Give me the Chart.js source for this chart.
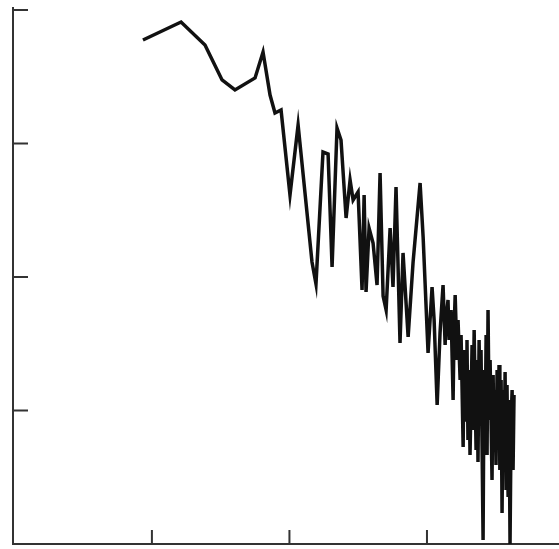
<!DOCTYPE html>
<html>
<head>
<meta charset="utf-8">
<script src="https://cdn.jsdelivr.net/npm/chart.js@4/dist/chart.umd.min.js"></script>
<style>
html,body{margin:0;padding:0;background:#fff;}
#wrap{width:559px;height:549px;}
</style>
</head>
<body>
<div id="wrap"><canvas id="c" width="559" height="549"></canvas></div>
<script>
// x positions (axis units) and y values
const xValues = [0.935,1.212,1.386,1.510,1.604,1.750,1.808,1.859,1.895,1.939,
  2.004,2.063,2.164,2.193,2.244,2.281,2.310,2.346,2.375,2.412,
  2.441,2.463,2.499,2.528,2.543,2.557,2.579,2.608,2.637,2.659,
  2.681,2.703,2.732,2.753,2.775,2.804,2.826,2.863,2.899,2.950,
  2.972,3.008,3.037,3.052,3.074,
  3.095,3.110,3.117,3.132,3.139,3.153,3.161,3.175,3.190,3.197,
  3.205,3.219,3.226,3.241,3.248,3.263,3.270,3.284,3.291,3.298,
  3.306,3.313,3.328,3.335,3.343,3.357,3.364,3.371,3.379,3.386,
  3.393,3.408,3.415,3.423,3.430,3.437,3.444,3.452,3.459,3.473,
  3.481,3.488,3.495,3.502,3.510,3.517,3.524,3.530,3.539,3.546,
  3.553,3.561,3.568,3.575,3.582,3.590,3.597,3.604,3.612,3.619,
  3.626,3.633];
const yValues = [3.775,3.910,3.738,3.476,3.401,3.491,3.685,3.363,3.228,3.251,
  2.614,3.139,2.112,1.948,2.936,2.921,2.075,3.116,3.026,2.442,
  2.727,2.577,2.637,1.903,2.614,1.888,2.367,2.255,1.940,2.779,
  1.858,1.753,2.367,1.925,2.674,1.506,2.180,1.551,2.112,2.704,
  2.300,1.431,1.925,1.678,1.041,
  1.581,1.828,1.940,1.491,1.678,1.828,1.528,1.753,1.079,1.603,
  1.865,1.378,1.678,1.228,1.566,0.727,1.453,0.929,1.528,0.779,
  1.303,0.667,1.491,0.854,1.603,0.704,1.378,0.614,1.528,0.966,
  1.453,0.030,1.303,0.779,1.566,0.667,1.753,0.929,1.378,0.479,
  1.266,0.704,1.154,0.592,1.303,0.779,1.341,0.554,1.228,0.232,
  1.154,0.629,1.288,0.404,1.191,0.352,1.079,0.000,0.929,1.154,
  0.554,1.116];
const xTicks = [1, 2, 3];
const yTicks = [1, 2, 3, 4];

const points = xValues.map((x, i) => ({x: x, y: yValues[i]}));

const inwardTicks = {
  id: 'inwardTicks',
  afterDraw(chart) {
    const ctx = chart.ctx;
    const xs = chart.scales.x, ys = chart.scales.y;
    ctx.save();
    ctx.strokeStyle = '#333';
    ctx.lineWidth = 2;
    ctx.beginPath();
    yTicks.forEach(v => {
      const py = ys.getPixelForValue(v);
      ctx.moveTo(xs.left, py);
      ctx.lineTo(xs.left + 15, py);
    });
    xTicks.forEach(v => {
      const px = xs.getPixelForValue(v);
      ctx.moveTo(px, ys.bottom);
      ctx.lineTo(px, ys.bottom - 14);
    });
    ctx.stroke();
    ctx.restore();
  }
};

new Chart(document.getElementById('c'), {
  type: 'scatter',
  data: {
    datasets: [{
      data: points,
      showLine: true,
      borderColor: '#111',
      borderWidth: 3.5,
      pointRadius: 0,
      tension: 0,
      fill: false
    }]
  },
  options: {
    responsive: false,
    animation: false,
    layout: {padding: {left: 13, top: 8, right: 0, bottom: 5}},
    plugins: {legend: {display: false}, tooltip: {enabled: false}},
    scales: {
      x: {
        type: 'linear', min: -0.01, max: 3.96,
        grid: {display: false, drawTicks: false},
        border: {display: true, color: '#333', width: 2},
        ticks: {display: false}
      },
      y: {
        type: 'linear', min: 0, max: 4.015,
        grid: {display: false, drawTicks: false},
        border: {display: true, color: '#333', width: 2},
        ticks: {display: false}
      }
    }
  },
  plugins: [inwardTicks]
});
</script>
</body>
</html>
